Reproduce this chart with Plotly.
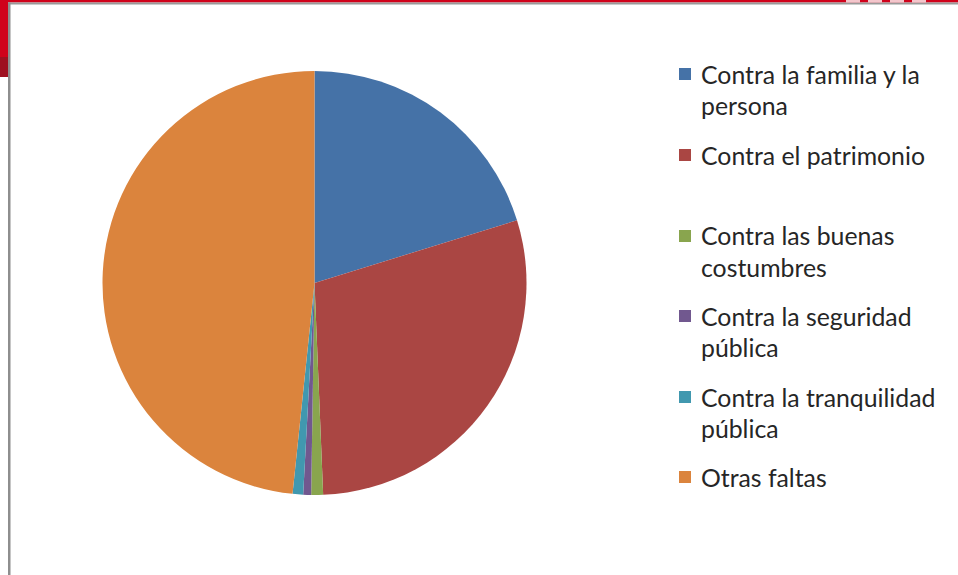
import plotly.graph_objects as go

categories = [
    "Contra la familia y la persona",
    "Contra el patrimonio",
    "Contra las buenas costumbres",
    "Contra la seguridad pública",
    "Contra la tranquilidad pública",
    "Otras faltas",
]
legend_lines = [
    ["Contra la familia y la", "persona"],
    ["Contra el patrimonio"],
    ["Contra las buenas", "costumbres"],
    ["Contra la seguridad", "pública"],
    ["Contra la tranquilidad", "pública"],
    ["Otras faltas"],
]
values = [20.2, 29.1, 0.9, 0.6, 0.8, 48.3]
colors = ["#4572A7", "#AA4643", "#89A54E", "#71588F", "#4198AF", "#DB843D"]

W, H = 958, 575
cx, cy, r = 314.5, 283, 212

fig = go.Figure(go.Pie(
    labels=categories,
    values=values,
    marker=dict(colors=colors, line=dict(width=0)),
    sort=False,
    direction="clockwise",
    rotation=0,
    textinfo="none",
    hoverinfo="label+percent",
    showlegend=False,
    domain=dict(x=[(cx - r) / W, (cx + r) / W],
                y=[1 - (cy + r) / H, 1 - (cy - r) / H]),
))

shapes = []
annotations = []

def px_rect(x0, y0, x1, y1, color):
    shapes.append(dict(type="rect", xref="paper", yref="paper",
                       x0=x0 / W, x1=x1 / W, y0=1 - y1 / H, y1=1 - y0 / H,
                       fillcolor=color, line=dict(width=0), layer="above"))

# frame decoration
px_rect(0, 0, W, 2.5, "#D0021B")
px_rect(0, 0, 8, 57, "#D0021B")
px_rect(0, 57, 8, 77, "#9E1020")
px_rect(8, 2.5, W, 4.5, "#999999")
px_rect(8, 2.5, 10.5, H, "#8E8E8E")
for x0 in [846, 868, 890, 912]:
    px_rect(x0, 0, x0 + 14, 2.5, "#F4C6CC")

# legend (manual)
item_y = [74, 155, 236, 316, 397, 477]
line_h = 31.5
for i, (lines, y) in enumerate(zip(legend_lines, item_y)):
    px_rect(679, y - 6, 691, y + 6, colors[i])
    for j, t in enumerate(lines):
        annotations.append(dict(
            x=699 / W, y=1 - (y + j * line_h) / H, xref="paper", yref="paper",
            xanchor="left", yanchor="middle", showarrow=False, text=t,
            font=dict(family="Lato, Carlito, Calibri, sans-serif", size=24.8, color="#262626"),
        ))

fig.update_layout(
    width=W, height=H,
    margin=dict(l=0, r=0, t=0, b=0),
    paper_bgcolor="white",
    plot_bgcolor="white",
    shapes=shapes,
    annotations=annotations,
)

fig.write_html("out.html", config={"displayModeBar": False},
               post_script="document.body.style.margin='0';document.body.style.overflow='hidden';")
